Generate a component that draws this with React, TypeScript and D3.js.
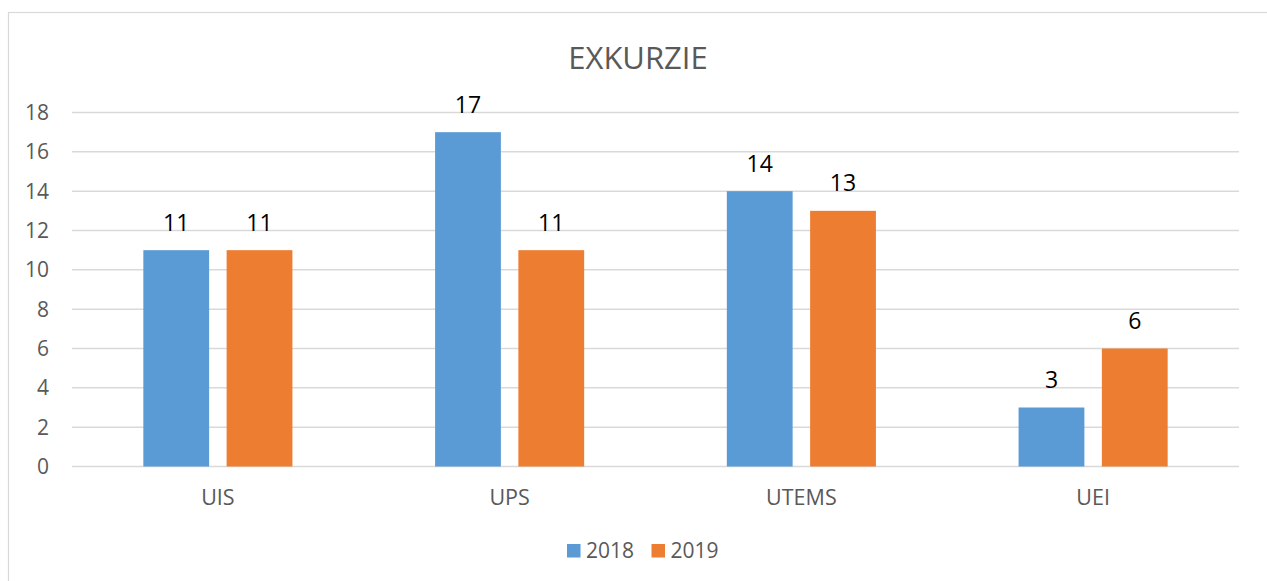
import * as d3 from 'd3';

const categories = ['UIS', 'UPS', 'UTEMS', 'UEI'];
const seriesNames = ['2018', '2019'];
const values2018 = [11, 17, 14, 3];
const values2019 = [11, 11, 13, 6];
const yTicks = [0, 2, 4, 6, 8, 10, 12, 14, 16, 18];

const colors = ['#5B9BD5', '#ED7D31'];
const font = '"Open Sans", sans-serif';
const grey = '#595959';

export default () => {
  const width = 1267;
  const height = 581;
  const plot = { left: 72, right: 1239, top: 112.5, bottom: 466.5 };

  const x = d3.scaleBand<string>().domain(categories).range([plot.left, plot.right]);
  const band = x.bandwidth();
  const outer = band * 0.2445;
  const x1 = d3
    .scaleBand<string>()
    .domain(seriesNames)
    .range([outer, band - outer])
    .paddingInner(0.21)
    .paddingOuter(0);
  const y = d3.scaleLinear().domain([0, 18]).range([plot.bottom, plot.top]);

  const series = [values2018, values2019];

  return (
    <svg
      width={width}
      height={height}
      style={{ position: 'absolute', left: 0, top: 0, background: '#fff' }}
      fontFamily={font}
    >
      {/* chart frame, runs off the right and bottom edges */}
      <rect x={8.5} y={12.5} width={1300} height={700} fill="none" stroke="#d9d9d9" strokeWidth={1.2} />

      <text x={638} y={68.5} textAnchor="middle" fontSize={31} fill={grey}>
        EXKURZIE
      </text>

      {yTicks.map((t) => (
        <g key={t}>
          <line x1={plot.left} x2={plot.right} y1={y(t)} y2={y(t)} stroke="#d9d9d9" strokeWidth={1.5} />
          <text x={49} y={y(t)} dy="0.36em" textAnchor="end" fontSize={21} fill={grey}>
            {t}
          </text>
        </g>
      ))}

      {categories.map((c, i) => (
        <g key={c} transform={`translate(${x(c)},0)`}>
          {seriesNames.map((s, j) => {
            const v = series[j][i];
            const bx = x1(s) ?? 0;
            return (
              <g key={s}>
                <rect
                  x={bx}
                  y={y(v)}
                  width={x1.bandwidth()}
                  height={y(0) - y(v)}
                  fill={colors[j]}
                />
                <text
                  x={bx + x1.bandwidth() / 2}
                  y={y(v) - 19.5}
                  textAnchor="middle"
                  fontSize={23}
                  fill="#000"
                >
                  {v}
                </text>
              </g>
            );
          })}
          <text x={band / 2} y={505} textAnchor="middle" fontSize={21.5} fill={grey}>
            {c}
          </text>
        </g>
      ))}

      {seriesNames.map((s, j) => {
        const lx = 567 + j * 84.5;
        return (
          <g key={s}>
            <rect x={lx} y={544} width={13.5} height={13.5} fill={colors[j]} />
            <text x={lx + 19} y={558} fontSize={21} fill={grey}>
              {s}
            </text>
          </g>
        );
      })}
    </svg>
  );
};
